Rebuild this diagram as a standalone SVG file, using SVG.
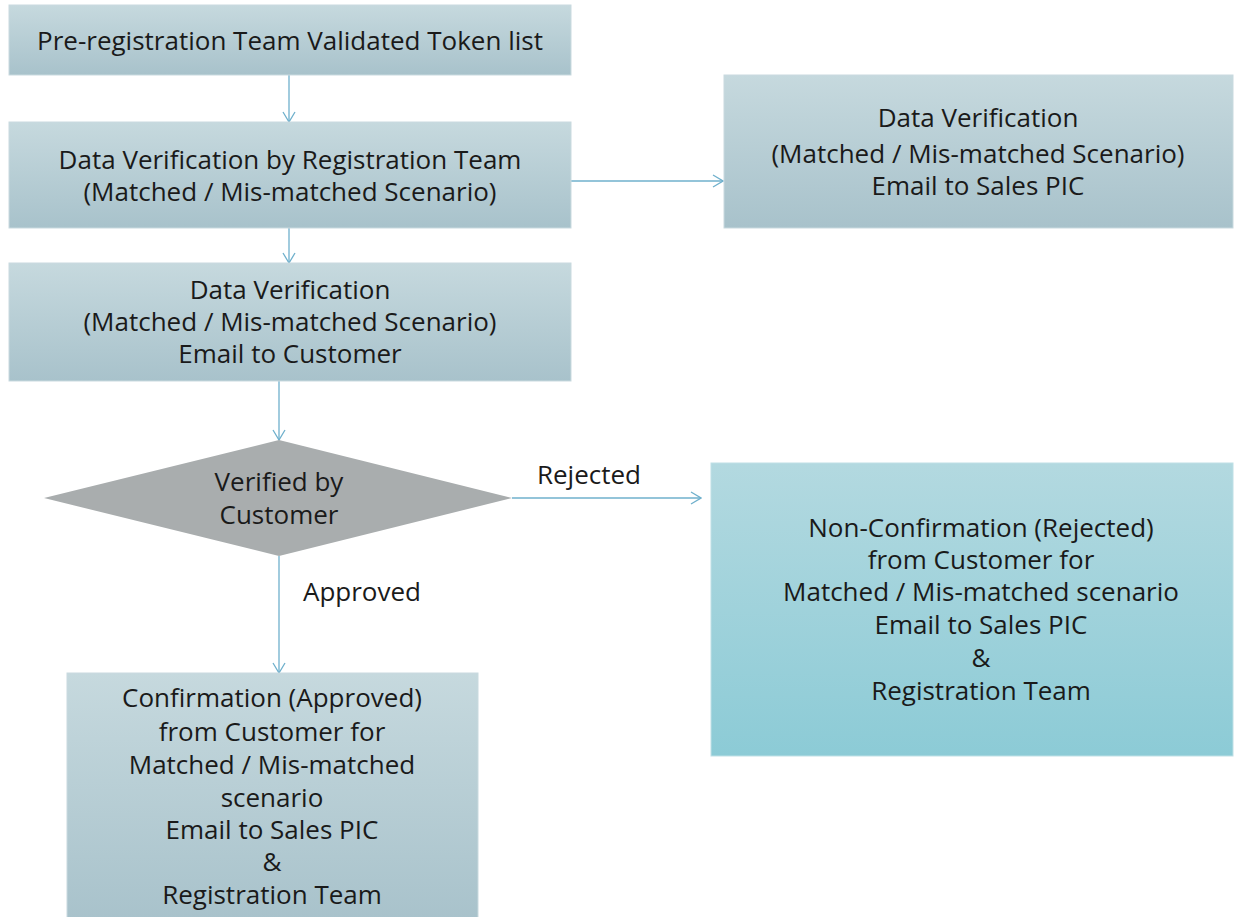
<svg xmlns="http://www.w3.org/2000/svg" width="1234" height="917" viewBox="0 0 1234 917">
<style>
text{font-family:"Open Sans","Noto Sans","Liberation Sans",sans-serif;font-size:26px;fill:#1a1a1a;text-anchor:middle}
.box{fill:url(#g1);stroke:#c9dadf;stroke-width:1}
.conn{stroke:#6fb0cc;stroke-width:1.3;fill:none;marker-end:url(#arr)}
</style>
<defs>
<linearGradient id="g1" x1="0" y1="0" x2="0" y2="1"><stop offset="0" stop-color="#c6d9de"/><stop offset="1" stop-color="#a8c2cb"/></linearGradient>
<linearGradient id="g2" x1="0" y1="0" x2="0" y2="1"><stop offset="0" stop-color="#b3d9e0"/><stop offset="1" stop-color="#8ccbd6"/></linearGradient>
<marker id="arr" markerWidth="12" markerHeight="14" refX="11" refY="7" orient="auto" markerUnits="userSpaceOnUse"><path d="M1,1 L11,7 L1,13" fill="none" stroke="#6fb0cc" stroke-width="1.3"/></marker>
</defs>
<g id="connectors">
<line class="conn" x1="289" y1="75" x2="289" y2="122"/>
<line class="conn" x1="571" y1="181" x2="723" y2="181"/>
<line class="conn" x1="289" y1="228" x2="289" y2="263"/>
<line class="conn" x1="279" y1="381" x2="279" y2="440"/>
<line class="conn" x1="512" y1="498" x2="701" y2="498"/>
<line class="conn" x1="279" y1="556" x2="279" y2="673"/>
<text x="589" y="484">Rejected</text>
<text x="362" y="601">Approved</text>
</g>
<g id="n1"><rect class="box" x="9" y="5" width="562" height="70"/><text x="290" y="50">Pre-registration Team Validated Token list</text></g>
<g id="n2"><rect class="box" x="9" y="122" width="562" height="106"/><text x="290" y="169">Data Verification by Registration Team</text><text x="290" y="201">(Matched / Mis-matched Scenario)</text></g>
<g id="n3"><rect class="box" x="724" y="75" width="509" height="153"/><text x="978" y="127">Data Verification</text><text x="978" y="163">(Matched / Mis-matched Scenario)</text><text x="978" y="195">Email to Sales PIC</text></g>
<g id="n4"><rect class="box" x="9" y="263" width="562" height="118"/><text x="290" y="299">Data Verification</text><text x="290" y="331">(Matched / Mis-matched Scenario)</text><text x="290" y="363">Email to Customer</text></g>
<g id="n5"><polygon points="279,440 512,498 279,556 44,498" fill="#a9adae"/><text x="279" y="491">Verified by</text><text x="279" y="524">Customer</text></g>
<g id="n6"><rect x="711" y="463" width="522" height="293" fill="url(#g2)" stroke="#bfe0e6"/><text x="981" y="537">Non-Confirmation (Rejected)</text><text x="981" y="569">from Customer for</text><text x="981" y="601">Matched / Mis-matched scenario</text><text x="981" y="634">Email to Sales PIC</text><text x="981" y="667">&amp;</text><text x="981" y="700">Registration Team</text></g>
<g id="n7"><rect class="box" x="67" y="673" width="411" height="250"/><text x="272" y="707">Confirmation (Approved)</text><text x="272" y="741">from Customer for</text><text x="272" y="774">Matched / Mis-matched</text><text x="272" y="807">scenario</text><text x="272" y="839">Email to Sales PIC</text><text x="272" y="871">&amp;</text><text x="272" y="904">Registration Team</text></g>
</svg>
